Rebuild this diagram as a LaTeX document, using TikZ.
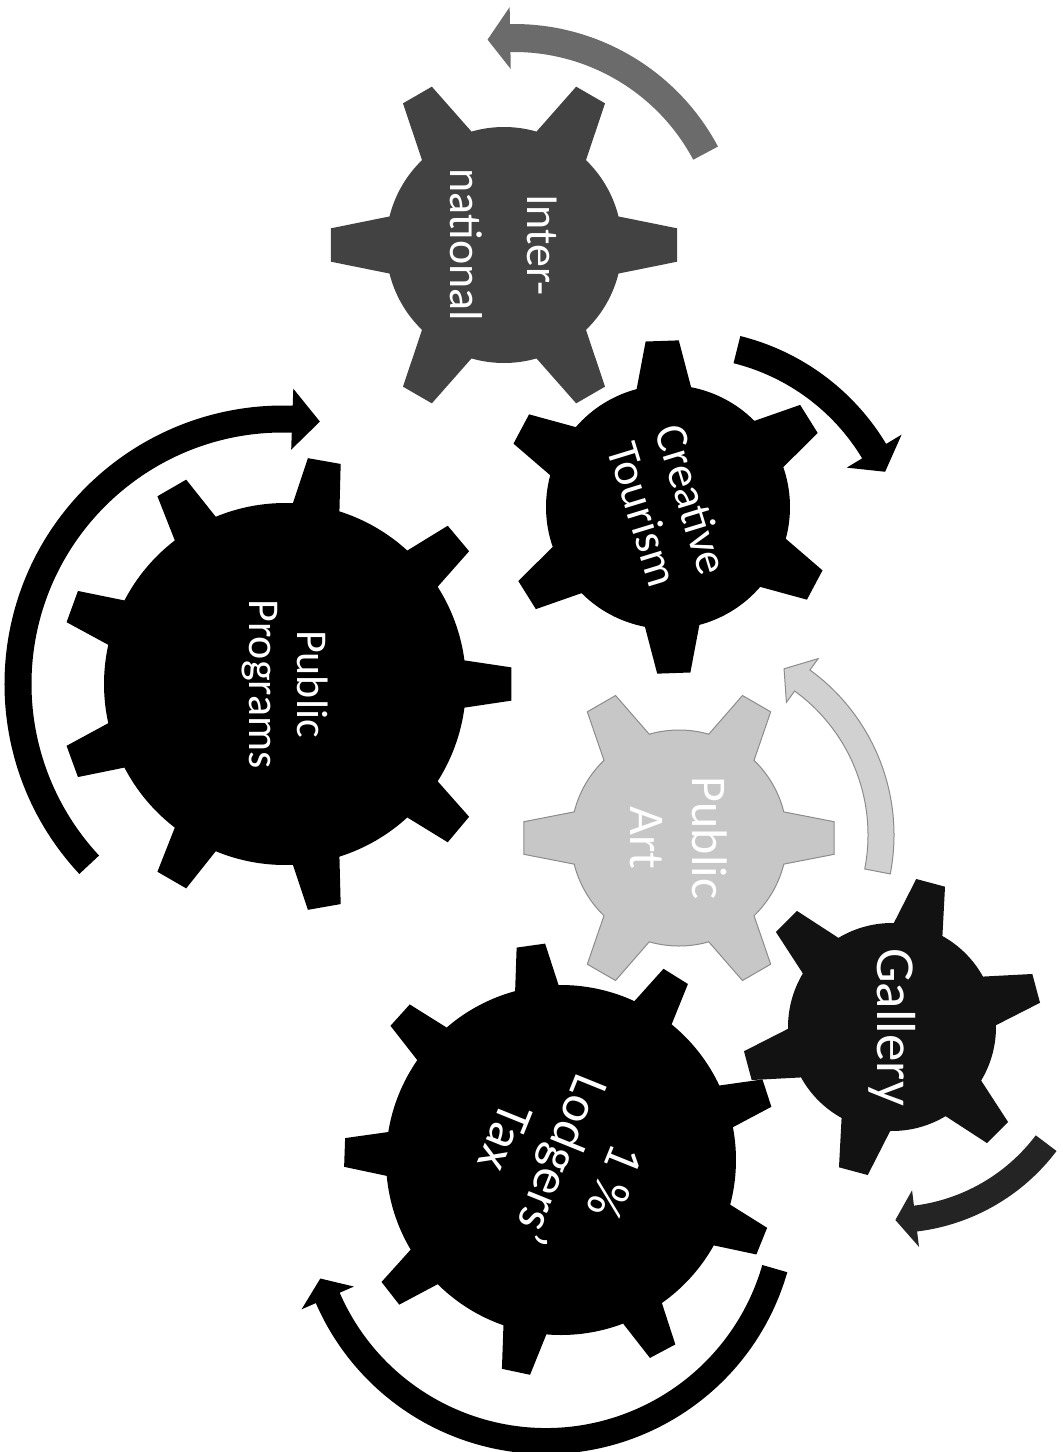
\documentclass[tikz,border=0pt]{standalone}
\usepackage{fontspec}
\setmainfont{Carlito}
% gear outline: N teeth, offset angle, outer radius, body radius, tip half-angle, base half-angle, style
\newcommand\gearpath[7]{%
  \pgfmathtruncatemacro\gearNm{#1-1}%
  \path[#7] ({#2-#6}:#4)
    \foreach \k in {0,...,\gearNm}{
      -- ({#2+360*\k/#1-#5}:#3) -- ({#2+360*\k/#1+#5}:#3)
      -- ({#2+360*\k/#1+#6}:#4)
      arc[start angle={#2+360*\k/#1+#6}, end angle={#2+360*(\k+1)/#1-#6}, radius=#4]
    } -- cycle;}
% curved arrow: centre, mid radius, shaft width, start angle, head-base angle, tip angle, head width, style
\newcommand\rotarrow[8]{%
  \pgfmathsetmacro\arRo{#2+#3/2}\pgfmathsetmacro\arRi{#2-#3/2}%
  \pgfmathsetmacro\arWo{#2+#7/2}\pgfmathsetmacro\arWi{#2-#7/2}%
  \path[#8,shift={(#1)}] (#4:\arRo) arc[start angle=#4, end angle=#5, radius=\arRo]
    -- (#5:\arWo) -- (#6:#2) -- (#5:\arWi) -- (#5:\arRi)
    arc[start angle=#5, end angle=#4, radius=\arRi] -- cycle;}
\begin{document}
\begin{tikzpicture}[x=1pt,y=1pt,
  gblack/.style={fill=black},
  gdark/.style={fill=black!93},
  ggray/.style={fill=black!74},
  glight/.style={fill=black!22, draw=black!45, line width=1pt},
  ablack/.style={fill=black},
  agray/.style={fill=black!58},
  adark/.style={fill=black!86},
  alight/.style={fill=black!18, draw=black!45, line width=1pt},
  geartext/.style={text=white, align=center, inner sep=0pt}]
\useasboundingbox (0,0) rectangle (1063,-1452);

% Inter-national
\begin{scope}[shift={(504,-245)}]
  \gearpath{6}{0}{174}{118}{5.5}{14}{ggray}
  \node[geartext, rotate=-90, font=\fontsize{46}{77}\selectfont] (intl) at (0,0) {Inter-\\national};
\end{scope}

% Creative Tourism
\begin{scope}[shift={(668,-507)}]
  \gearpath{6}{92}{167}{122}{5.7}{12.9}{gblack}
  \node[geartext, rotate=-73, font=\fontsize{46}{51}\selectfont] (creative) at (0,0) {Creative\\Tourism};
\end{scope}

% Public Programs
\begin{scope}[shift={(285,-684)}]
  \gearpath{9}{0}{227}{181}{4.2}{7.5}{gblack}
  \node[geartext, rotate=-90, font=\fontsize{44}{48}\selectfont] (programs) at (0,0) {Public\\Programs};
\end{scope}

% Public Art
\begin{scope}[shift={(679,-838)}]
  \gearpath{6}{0}{156}{108}{6}{14}{glight}
  \node[geartext, rotate=-90, font=\fontsize{50}{62}\selectfont] (art) at (0,0) {Public\\Art};
\end{scope}

% Gallery
\begin{scope}[shift={(892,-1027)}]
  \gearpath{6}{15}{150}{104}{5.7}{14}{gdark}
  \node[geartext, rotate=-90, font=\fontsize{55}{60}\selectfont] (gallery) at (0,0) {Gallery};
\end{scope}

% 1 % Lodgers' Tax
\begin{scope}[shift={(561,-1160)}]
  \gearpath{9}{178}{217}{175}{3.8}{7.2}{gblack}
  \node[geartext, rotate=-112, font=\fontsize{52}{59}\selectfont] (lodgers) at (0,0) {1 \%\\Lodgers’\\Tax};
\end{scope}

% rotation arrows
\rotarrow{514,-255}{217}{28}{28}{91}{97}{62}{agray}
\rotarrow{683,-566}{223}{28}{76}{31}{25}{64}{ablack}
\rotarrow{283,-684}{265}{27}{223}{88}{82}{61}{ablack}
\rotarrow{690,-835}{191}{26}{-11}{54}{60.5}{54}{alight}
\rotarrow{892,-1027}{193}{26}{-37}{-83}{-89}{57}{adark}
\rotarrow{546,-1203}{238}{26}{-16}{-156.5}{-161.5}{57}{ablack}
\end{tikzpicture}
\end{document}
